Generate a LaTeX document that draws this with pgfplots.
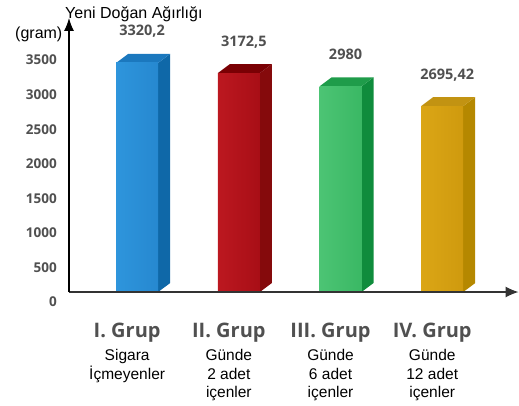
\documentclass[border=0pt]{standalone}
\usepackage{fontspec}
\setmainfont{Liberation Sans}
\newfontfamily\opensans{Open Sans}
\usepackage{pgfplots}
\pgfplotsset{compat=1.18}
\usepackage{pgfplotstable}
\usetikzlibrary{arrows.meta}

% front (left/right), side and top face colours of each bar
\definecolor{frontL0}{HTML}{2E95DC}\definecolor{frontR0}{HTML}{2688D0}
\definecolor{side0}{HTML}{0F68A8}\definecolor{top0}{HTML}{1B78BE}
\definecolor{frontL1}{HTML}{BC1820}\definecolor{frontR1}{HTML}{A80E16}
\definecolor{side1}{HTML}{850A0C}\definecolor{top1}{HTML}{7A0004}
\definecolor{frontL2}{HTML}{4CC474}\definecolor{frontR2}{HTML}{3AB864}
\definecolor{side2}{HTML}{0F8C3C}\definecolor{top2}{HTML}{1F9C4A}
\definecolor{frontL3}{HTML}{DBA616}\definecolor{frontR3}{HTML}{CF9A0E}
\definecolor{side3}{HTML}{B58800}\definecolor{top3}{HTML}{C29312}
\definecolor{labelgray}{HTML}{505050}

\newcommand\grupfont{\opensans\bfseries\fontsize{20}{24}\selectfont}
\newcommand\tickfont{\opensans\bfseries\fontsize{13.5}{16}\selectfont}
\newcommand\valuefont{\opensans\bfseries\fontsize{14.5}{17}\selectfont}
\newcommand\descfont{\fontsize{15.5}{18.5}\selectfont}

\pgfplotstableread{
x v
0 3320.2
1 3172.5
2 2980
3 2695.42
}\weights

% half bar width and depth of the 3D faces, in data units
\def\hw{0.2065}
\def\dx{0.118}
\def\dy{130}

\begin{document}
\begin{tikzpicture}
\useasboundingbox (0pt,0pt) rectangle (519pt,405pt);
\begin{axis}[
  at={(69pt,113pt)}, anchor=south west,
  scale only axis, width=449.5pt, height=274pt,
  xmin=-0.67, xmax=3.75, ymin=0, ymax=3971,
  axis x line=bottom, axis y line=left,
  axis line style={draw=none},
  clip=false,
  major tick length=0pt,
  ytick={0,500,...,3500},
  yticklabel style={font=\tickfont, text=labelgray, anchor=base east, inner sep=0pt, xshift=-12pt, yshift=-14.5pt},
  xtick={0,1,2,3},
  xticklabels={
    {{\grupfont\color{labelgray}I. Grup}\\[4.5pt]Sigara\\İçmeyenler},
    {{\grupfont\color{labelgray}II. Grup}\\[4.5pt]Günde\\2 adet\\içenler},
    {{\grupfont\color{labelgray}III. Grup}\\[4.5pt]Günde\\6 adet\\içenler},
    {{\grupfont\color{labelgray}IV. Grup}\\[4.5pt]Günde\\12 adet\\içenler}},
  xticklabel style={font=\descfont, align=center, anchor=north, inner sep=0pt, xshift=-10pt, yshift=-31pt},
  /pgf/number format/.cd, use comma, 1000 sep={}, precision=2, assume math mode=true,
]
\pgfplotsinvokeforeach{0,1,2,3}{
  \pgfplotstablegetelem{#1}{v}\of\weights
  \pgfmathsetmacro\v{\pgfplotsretval}
  \pgfmathsetmacro\vt{\v+\dy}
  \pgfmathsetmacro\l{#1-\hw}
  \pgfmathsetmacro\r{#1+\hw}
  \pgfmathsetmacro\ld{\l+\dx}
  \pgfmathsetmacro\rd{\r+\dx}
  % side face
  \addplot[fill=side#1, draw=none, forget plot] coordinates {(\r,0) (\rd,\dy) (\rd,\vt) (\r,\v)} --cycle;
  % top face
  \addplot[fill=top#1, draw=none, forget plot] coordinates {(\l,\v) (\ld,\vt) (\rd,\vt) (\r,\v)} --cycle;
  % front face with its value
  \addplot[ybar, bar width=42pt, bar shift=0pt, draw=none,
    left color=frontL#1, right color=frontR#1,
    nodes near coords={\valuefont\pgfmathprintnumber{\pgfplotspointmeta}},
    every node near coord/.append style={text=labelgray, anchor=base, inner sep=0pt, xshift=5pt, yshift=27pt}]
    coordinates {(#1,\v)};
}
% axis lines with large filled arrow heads
\draw[black!80, line width=1.1pt, -{Latex[length=13pt,width=11pt]}]
  (rel axis cs:0,0) -- (rel axis cs:1,0);
\draw[black, line width=1.1pt, -{Latex[length=13pt,width=10pt]}]
  (rel axis cs:0,0) -- (rel axis cs:0,1);
\end{axis}
\node[anchor=base west, inner sep=0pt, font=\fontsize{16}{19}\selectfont] at (65pt,386pt) {Yeni Doğan Ağırlığı};
\node[anchor=base west, inner sep=0pt, font=\fontsize{16}{19}\selectfont] at (15pt,366pt) {(gram)};
\end{tikzpicture}
\end{document}
